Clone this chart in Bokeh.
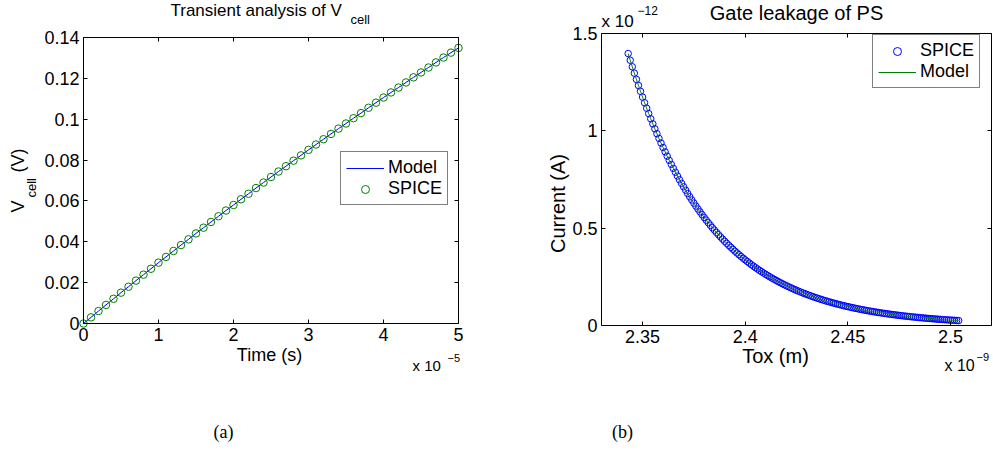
import math
from bokeh.plotting import figure
from bokeh.models import Label, Legend, LegendItem, LinearAxis, FixedTicker, Range1d
from bokeh.layouts import row
from bokeh.embed import file_html
from bokeh.resources import INLINE

# ---------------- data: (a) transient analysis ----------------
time_e5 = [0.0, 0.1, 0.2, 0.3, 0.4, 0.5, 0.6, 0.7, 0.8, 0.9,
           1.0, 1.1, 1.2, 1.3, 1.4, 1.5, 1.6, 1.7, 1.8, 1.9,
           2.0, 2.1, 2.2, 2.3, 2.4, 2.5, 2.6, 2.7, 2.8, 2.9,
           3.0, 3.1, 3.2, 3.3, 3.4, 3.5, 3.6, 3.7, 3.8, 3.9,
           4.0, 4.1, 4.2, 4.3, 4.4, 4.5, 4.6, 4.7, 4.8, 4.9, 5.0]
vcell_model = [0.0, 0.0030, 0.0061, 0.0091, 0.0121, 0.0151, 0.0180, 0.0210, 0.0239, 0.0268,
               0.0298, 0.0326, 0.0355, 0.0384, 0.0412, 0.0441, 0.0469, 0.0497, 0.0525, 0.0553,
               0.0580, 0.0608, 0.0635, 0.0663, 0.0690, 0.0717, 0.0744, 0.0770, 0.0797, 0.0823,
               0.0850, 0.0876, 0.0902, 0.0928, 0.0954, 0.0979, 0.1005, 0.1030, 0.1056, 0.1081,
               0.1106, 0.1131, 0.1155, 0.1180, 0.1205, 0.1229, 0.1253, 0.1278, 0.1302, 0.1326, 0.1349]
vcell_spice = [0.0, 0.0030, 0.0061, 0.0091, 0.0121, 0.0151, 0.0180, 0.0210, 0.0239, 0.0268,
               0.0298, 0.0326, 0.0355, 0.0384, 0.0412, 0.0441, 0.0469, 0.0497, 0.0525, 0.0553,
               0.0580, 0.0608, 0.0635, 0.0663, 0.0690, 0.0717, 0.0744, 0.0770, 0.0797, 0.0823,
               0.0850, 0.0876, 0.0902, 0.0928, 0.0954, 0.0979, 0.1005, 0.1030, 0.1056, 0.1081,
               0.1106, 0.1131, 0.1155, 0.1180, 0.1205, 0.1229, 0.1253, 0.1278, 0.1302, 0.1326, 0.1349]
a_xticks = [0, 1, 2, 3, 4, 5]
a_xlabels = ["0", "1", "2", "3", "4", "5"]
a_yticks = [0.0, 0.02, 0.04, 0.06, 0.08, 0.1, 0.12, 0.14]
a_ylabels = ["0", "0.02", "0.04", "0.06", "0.08", "0.1", "0.12", "0.14"]
a_xlim = [0, 5]
a_ylim = [0, 0.14]

# ---------------- data: (b) gate leakage ----------------
tox_e9 = [2.343, 2.344, 2.345, 2.346, 2.347, 2.348, 2.349, 2.350, 2.351, 2.352,
          2.353, 2.354, 2.355, 2.356, 2.357, 2.358, 2.359, 2.360, 2.361, 2.362,
          2.363, 2.364, 2.365, 2.366, 2.367, 2.368, 2.369, 2.370, 2.371, 2.372,
          2.373, 2.374, 2.375, 2.376, 2.377, 2.378, 2.379, 2.380, 2.381, 2.382,
          2.383, 2.384, 2.385, 2.386, 2.387, 2.388, 2.389, 2.390, 2.391, 2.392,
          2.393, 2.394, 2.395, 2.396, 2.397, 2.398, 2.399, 2.400, 2.401, 2.402,
          2.403, 2.404, 2.405, 2.406, 2.407, 2.408, 2.409, 2.410, 2.411, 2.412,
          2.413, 2.414, 2.415, 2.416, 2.417, 2.418, 2.419, 2.420, 2.421, 2.422,
          2.423, 2.424, 2.425, 2.426, 2.427, 2.428, 2.429, 2.430, 2.431, 2.432,
          2.433, 2.434, 2.435, 2.436, 2.437, 2.438, 2.439, 2.440, 2.441, 2.442,
          2.443, 2.444, 2.445, 2.446, 2.447, 2.448, 2.449, 2.450, 2.451, 2.452,
          2.453, 2.454, 2.455, 2.456, 2.457, 2.458, 2.459, 2.460, 2.461, 2.462,
          2.463, 2.464, 2.465, 2.466, 2.467, 2.468, 2.469, 2.470, 2.471, 2.472,
          2.473, 2.474, 2.475, 2.476, 2.477, 2.478, 2.479, 2.480, 2.481, 2.482,
          2.483, 2.484, 2.485, 2.486, 2.487, 2.488, 2.489, 2.490, 2.491, 2.492,
          2.493, 2.494, 2.495, 2.496, 2.497, 2.498, 2.499, 2.500, 2.501, 2.502,
          2.503, 2.504]
current_e12 = [1.3970, 1.3626, 1.3290, 1.2963, 1.2644, 1.2332, 1.2029, 1.1732, 1.1443, 1.1162,
               1.0886, 1.0618, 1.0357, 1.0102, 0.9853, 0.9610, 0.9374, 0.9143, 0.8918, 0.8698,
               0.8483, 0.8275, 0.8071, 0.7872, 0.7678, 0.7489, 0.7304, 0.7125, 0.6949, 0.6778,
               0.6611, 0.6448, 0.6289, 0.6134, 0.5983, 0.5836, 0.5692, 0.5552, 0.5415, 0.5282,
               0.5152, 0.5025, 0.4901, 0.4780, 0.4663, 0.4548, 0.4436, 0.4327, 0.4220, 0.4116,
               0.4015, 0.3916, 0.3819, 0.3725, 0.3634, 0.3544, 0.3457, 0.3372, 0.3289, 0.3208,
               0.3128, 0.3051, 0.2976, 0.2903, 0.2831, 0.2762, 0.2694, 0.2627, 0.2563, 0.2500,
               0.2438, 0.2378, 0.2319, 0.2262, 0.2206, 0.2152, 0.2099, 0.2047, 0.1997, 0.1948,
               0.1900, 0.1853, 0.1807, 0.1763, 0.1719, 0.1677, 0.1636, 0.1596, 0.1556, 0.1518,
               0.1480, 0.1444, 0.1408, 0.1374, 0.1340, 0.1307, 0.1275, 0.1243, 0.1213, 0.1183,
               0.1154, 0.1125, 0.1098, 0.1070, 0.1044, 0.1018, 0.0993, 0.0969, 0.0945, 0.0922,
               0.0899, 0.0877, 0.0855, 0.0834, 0.0814, 0.0794, 0.0774, 0.0755, 0.0736, 0.0718,
               0.0701, 0.0683, 0.0667, 0.0650, 0.0634, 0.0619, 0.0603, 0.0588, 0.0574, 0.0560,
               0.0546, 0.0533, 0.0519, 0.0507, 0.0494, 0.0482, 0.0470, 0.0459, 0.0447, 0.0436,
               0.0425, 0.0415, 0.0405, 0.0395, 0.0385, 0.0376, 0.0366, 0.0357, 0.0349, 0.0340,
               0.0332, 0.0323, 0.0315, 0.0308, 0.0300, 0.0293, 0.0285, 0.0278, 0.0272, 0.0265,
               0.0258, 0.0252]
b_xticks = [2.35, 2.4, 2.45, 2.5]
b_xlabels = ["2.35", "2.4", "2.45", "2.5"]
b_yticks = [0.0, 0.5, 1.0, 1.5]
b_ylabels = ["0", "0.5", "1", "1.5"]
b_xlim = [2.33, 2.52]
b_ylim = [0, 1.5]

FONT = "Liberation Sans"
SERIF = "Liberation Serif"
BLUE = "#0000ff"
GREEN = "#008000"
FIG_H = 450


class Panel:
    """A figure whose frame is the whole canvas; the axes box sits at
    canvas pixels (FL..FR, FT..FB) and is drawn with fixed-location axes."""

    def __init__(self, width, box, xlim, ylim, xticks, xlabels, yticks, ylabels, tick_fs):
        FL, FR, FT, FB = box
        self.W, self.box, self.xlim, self.ylim = width, box, xlim, ylim
        self.sx = (FR - FL) / (xlim[1] - xlim[0])
        self.sy = (FB - FT) / (ylim[1] - ylim[0])
        xr = Range1d(xlim[0] - FL / self.sx, xlim[1] + (width - FR) / self.sx)
        yr = Range1d(ylim[0] - (FIG_H - FB) / self.sy, ylim[1] + FT / self.sy)
        p = figure(width=width, height=FIG_H, output_backend="svg", toolbar_location=None,
                   title=None, x_range=xr, y_range=yr,
                   min_border=0, min_border_left=0, min_border_right=0,
                   min_border_top=0, min_border_bottom=0)
        p.xgrid.grid_line_color = None
        p.ygrid.grid_line_color = None
        p.outline_line_color = None
        p.background_fill_color = "white"
        p.border_fill_color = "white"
        xover = {float(t): l for t, l in zip(xticks, xlabels)}
        yover = {float(t): l for t, l in zip(yticks, ylabels)}
        bottom, left = p.xaxis[0], p.yaxis[0]
        top = LinearAxis()
        right = LinearAxis()
        p.add_layout(top, "above")
        p.add_layout(right, "right")
        specs = [(bottom, xticks, xover, ylim[0], (xlim[0], xlim[1]), True),
                 (top, xticks, xover, ylim[1], (xlim[0], xlim[1]), False),
                 (left, yticks, yover, xlim[0], (ylim[0], ylim[1]), True),
                 (right, yticks, yover, xlim[1], (ylim[0], ylim[1]), False)]
        for ax, ticks, over, loc, bounds, labelled in specs:
            ax.ticker = FixedTicker(ticks=[float(t) for t in ticks])
            ax.fixed_location = loc
            ax.bounds = bounds
            ax.major_tick_in = 4
            ax.major_tick_out = 0
            ax.minor_tick_in = 0
            ax.minor_tick_out = 0
            ax.axis_line_color = "black"
            ax.axis_line_width = 1
            ax.major_tick_line_color = "black"
            ax.major_label_standoff = 4
            if labelled:
                ax.major_label_overrides = over
                ax.major_label_text_font = FONT
                ax.major_label_text_font_size = tick_fs
                ax.major_label_text_color = "black"
            else:
                ax.major_label_text_font_size = "1px"
                ax.major_label_text_color = None
        self.p = p

    def x(self, cx):
        return self.xlim[0] + (cx - self.box[0]) / self.sx

    def y(self, cy):
        return self.ylim[0] + (self.box[3] - cy) / self.sy

    def text(self, cx, cy, text, size, align="left", angle=0.0, font=FONT):
        self.p.add_layout(Label(x=self.x(cx), y=self.y(cy), x_units="data", y_units="data",
                                text=text, text_font=font, text_font_size=size,
                                text_color="black", text_align=align,
                                text_baseline="alphabetic", angle=angle))

    def legend(self, items, left, bottom):
        leg = Legend(items=items, location=(left, FIG_H - bottom))
        leg.border_line_color = "black"
        leg.border_line_width = 1
        leg.background_fill_color = "white"
        leg.background_fill_alpha = 1.0
        leg.label_text_font = FONT
        leg.label_text_font_size = "18px"
        leg.label_text_color = "black"
        leg.glyph_width = 38
        leg.glyph_height = 20
        leg.label_height = 20
        leg.label_standoff = 4
        leg.padding = 5
        leg.spacing = 0
        leg.margin = 0
        self.p.add_layout(leg, "center")


# ---------------- figure (a): canvas = page x 0..490 ----------------
A = Panel(490, (83, 458, 37, 323), a_xlim, a_ylim, a_xticks, a_xlabels,
          a_yticks, a_ylabels, "18px")
r_model_a = A.p.line(time_e5, vcell_model, line_color=BLUE, line_width=1)
r_spice_a = A.p.scatter(time_e5, vcell_spice, marker="circle", size=7.5, fill_color=None,
                        line_color=GREEN, line_width=1)
A.legend([LegendItem(label="Model", renderers=[r_model_a]),
          LegendItem(label="SPICE", renderers=[r_spice_a])], 340, 205)

A.text(170, 10, "Transient analysis of V", "17px")
A.text(350, 19, "cell", "13px")
A.text(17, 212, "V", "18px", angle=math.pi / 2)
A.text(31, 197, "cell", "13px", angle=math.pi / 2)
A.text(17, 172, "(V)", "18px", angle=math.pi / 2)
A.text(269, 354, "Time (s)", "18px", align="center")
A.text(412, 365, "x 10", "15px")
A.text(447, 357, "\u22125", "11px")
A.text(223, 431, "(a)", "18px", align="center", font=SERIF)

# ---------------- figure (b): canvas = page x 490..993 ----------------
X0 = 490
B = Panel(503, (601 - X0, 991 - X0, 33, 325), b_xlim, b_ylim, b_xticks, b_xlabels,
          b_yticks, b_ylabels, "18px")
r_spice_b = B.p.scatter(tox_e9, current_e12, marker="circle", size=6.5, fill_color=None,
                        line_color=BLUE, line_width=1)
r_model_b = B.p.line(tox_e9, current_e12, line_color=GREEN, line_width=1)
B.legend([LegendItem(label="SPICE", renderers=[r_spice_b]),
          LegendItem(label="Model", renderers=[r_model_b])], 872 - X0, 88)

B.text(796 - X0, 12.5, "Gate leakage of PS", "20px", align="center")
B.text(601 - X0, 21, "x 10", "17px")
B.text(637 - X0, 10, "\u221212", "12px")
B.text(557 - X0, 203, "Current (A)", "20px", align="center", angle=math.pi / 2)
B.text(775 - X0, 355, "Tox (m)", "20px", align="center")
B.text(944 - X0, 365, "x 10", "16px")
B.text(976 - X0, 356, "\u22129", "11px")
B.text(622 - X0, 431, "(b)", "18px", align="center", font=SERIF)

layout = row(A.p, B.p, spacing=0)
open("out.html", "w").write(file_html(layout, INLINE))
